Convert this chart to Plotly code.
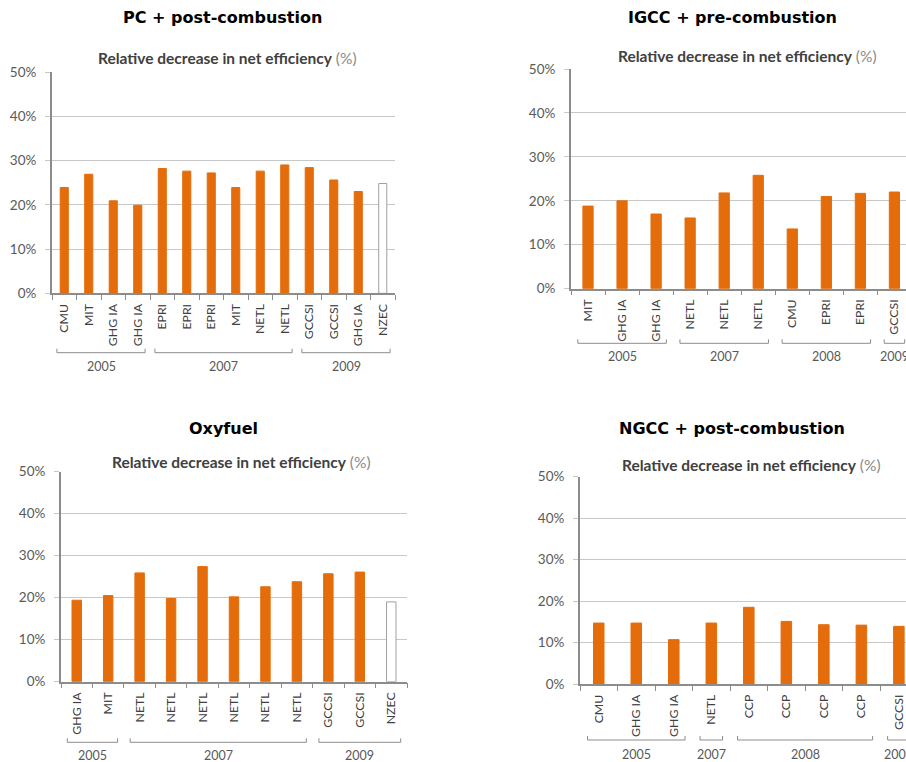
import plotly.graph_objects as go

W, H = 906, 762

ORANGE = "#E46C0A"
GRID = "#c8c8c8"
AXIS = "#8c8c8c"
XTICKFONT = dict(family="Lato", size=12.3, color="#404040")
YTICKFONT = dict(family="Lato", size=13.5, color="#595959")
SUB = ("<b>Relative decrease in net efficiency</b> "
       "<span style='color:#8a8a8a'>(%)</span>")

# ---- data -------------------------------------------------------------
pc_labels = ["CMU", "MIT", "GHG IA", "GHG IA", "EPRI", "EPRI", "EPRI", "MIT",
             "NETL", "NETL", "GCCSI", "GCCSI", "GHG IA", "NZEC"]
pc_values = [23.9, 26.9, 20.9, 19.9, 28.2, 27.6, 27.2, 23.9, 27.6, 29.0,
             28.4, 25.6, 23.0, 24.8]
pc_years = [("2005", 4), ("2007", 6), ("2009", 4)]

igcc_labels = ["MIT", "GHG IA", "GHG IA", "NETL", "NETL", "NETL", "CMU",
               "EPRI", "EPRI", "GCCSI"]
igcc_values = [18.8, 20.0, 17.0, 16.1, 21.8, 25.8, 13.6, 21.0, 21.7, 22.0]
igcc_years = [("2005", 3), ("2007", 3), ("2008", 3), ("2009", 1)]

oxy_labels = ["GHG IA", "MIT", "NETL", "NETL", "NETL", "NETL", "NETL",
              "NETL", "GCCSI", "GCCSI", "NZEC"]
oxy_values = [19.4, 20.5, 25.9, 19.8, 27.4, 20.2, 22.6, 23.8, 25.7, 26.1,
              19.0]
oxy_years = [("2005", 2), ("2007", 6), ("2009", 3)]

ngcc_labels = ["CMU", "GHG IA", "GHG IA", "NETL", "CCP", "CCP", "CCP", "CCP",
               "GCCSI"]
ngcc_values = [14.7, 14.7, 10.7, 14.7, 18.5, 15.1, 14.3, 14.2, 13.9]
ngcc_years = [("2005", 3), ("2007", 1), ("2008", 4), ("2009", 1)]

y_ticks = [0, 10, 20, 30, 40, 50]
y_tick_labels = ["0%", "10%", "20%", "30%", "40%", "50%"]


def px(x):
    return x / W


def py(y):
    return 1 - y / H


# ---- layout of the four panels (reference pixels) ----------------------
panels = [
    dict(title="PC + post-combustion", labels=pc_labels, values=pc_values,
         years=pc_years, px_x=(52, 395), px_y=(293.3, 72), xmax=None, bw=0.33,
         title_xy=(222, 18), sub_xy=(227, 58), bracket_y=352.7, year_y=366.7),
    dict(title="IGCC + pre-combustion", labels=igcc_labels, values=igcc_values,
         years=igcc_years, px_x=(571, 906), px_y=(288.7, 69), xmax=9.34, bw=0.3,
         title_xy=(732, 18), sub_xy=(747, 56), bracket_y=343.3, year_y=356.7),
    dict(title="Oxyfuel", labels=oxy_labels, values=oxy_values,
         years=oxy_years, px_x=(61, 407), px_y=(681.7, 471.7), xmax=None, bw=0.3,
         title_xy=(223, 428), sub_xy=(241, 461.7), bracket_y=742.3, year_y=755),
    dict(title="NGCC + post-combustion", labels=ngcc_labels, values=ngcc_values,
         years=ngcc_years, px_x=(580, 906), px_y=(684, 476.7), xmax=8.19, bw=0.28,
         title_xy=(732, 428), sub_xy=(751.5, 465), bracket_y=740, year_y=754),
]

fig = go.Figure()
shapes, annotations = [], []

for i, p in enumerate(panels, start=1):
    xa = "x" if i == 1 else f"x{i}"
    ya = "y" if i == 1 else f"y{i}"
    n = len(p["labels"])
    xs = list(range(n))
    fill = ["white" if l == "NZEC" else ORANGE for l in p["labels"]]
    edge = ["#a0a0a0" if l == "NZEC" else ORANGE for l in p["labels"]]
    fig.add_trace(go.Bar(
        x=xs, y=p["values"], width=p["bw"], xaxis=xa, yaxis=ya,
        marker=dict(color=fill, line=dict(color=edge, width=1)),
        customdata=p["labels"], hovertemplate="%{customdata}: %{y}%<extra></extra>",
        showlegend=False))
    xmax = p["xmax"] if p["xmax"] is not None else n - 0.5
    xdom = [max(0.0, px(p["px_x"][0])), min(1.0, px(p["px_x"][1]))]
    ydom = [py(p["px_y"][0]), py(p["px_y"][1])]
    fig.layout["xaxis" + ("" if i == 1 else str(i))] = dict(
        domain=xdom, range=[-0.5, xmax], anchor=ya, automargin=False,
        tickmode="array", tickvals=xs, ticktext=p["labels"], tickangle=-90,
        ticks="", showline=True, linecolor=AXIS, linewidth=1.5,
        minor=dict(tickmode="array", tickvals=[k - 0.5 for k in range(n + 1)],
                   ticks="outside", ticklen=5, tickcolor=AXIS, tickwidth=1,
                   showgrid=False),
        showgrid=False, zeroline=False, tickfont=XTICKFONT,
        ticklabelstandoff=4, ticklabeloverflow="allow", fixedrange=True)
    fig.layout["yaxis" + ("" if i == 1 else str(i))] = dict(
        domain=ydom, range=[0, 50], anchor=xa, automargin=False,
        tickmode="array", tickvals=y_ticks, ticktext=y_tick_labels,
        showline=True, linecolor=AXIS,
        linewidth=2, ticks="outside", ticklen=5, tickcolor=GRID,
        gridcolor=GRID, gridwidth=1, zeroline=False, tickfont=YTICKFONT,
        ticklabelstandoff=6, fixedrange=True)

    # titles
    annotations.append(dict(
        text=p["title"], xref="paper", yref="paper",
        x=px(p["title_xy"][0]), y=py(p["title_xy"][1]),
        xanchor="center", yanchor="middle", showarrow=False,
        font=dict(family="DejaVu Sans", size=16, color="#000000", weight="bold")))
    annotations.append(dict(
        text=SUB, xref="paper", yref="paper",
        x=px(p["sub_xy"][0]), y=py(p["sub_xy"][1]),
        xanchor="center", yanchor="middle", showarrow=False,
        font=dict(family="Lato", size=15.5, color="#404040")))

    # year brackets
    start = 0
    yb = py(p["bracket_y"])
    yt = yb + 4 / H
    for year, cnt in p["years"]:
        a0 = start - 0.5 + 0.2
        a1 = start + cnt - 1 + 0.5 - 0.2
        shapes.append(dict(
            type="path", xref=xa, yref="paper",
            path=f"M {a0},{yt} L {a0},{yb} L {a1},{yb} L {a1},{yt}",
            line=dict(color=AXIS, width=1)))
        annotations.append(dict(
            text=year, xref=xa, yref="paper", x=start + (cnt - 1) / 2,
            y=py(p["year_y"]), xanchor="center", yanchor="middle",
            showarrow=False, font=dict(family="Lato", size=12.5, color="#595959")))
        start += cnt

fig.update_layout(
    width=W, height=H, margin=dict(l=0, r=0, t=0, b=0),
    paper_bgcolor="white", plot_bgcolor="white",
    shapes=shapes, annotations=annotations, bargap=0.6,
)

fig.write_html(
    "out.html",
    config={"displayModeBar": False},
    post_script="document.body.style.margin='0';"
                "document.documentElement.style.overflow='hidden';",
)
